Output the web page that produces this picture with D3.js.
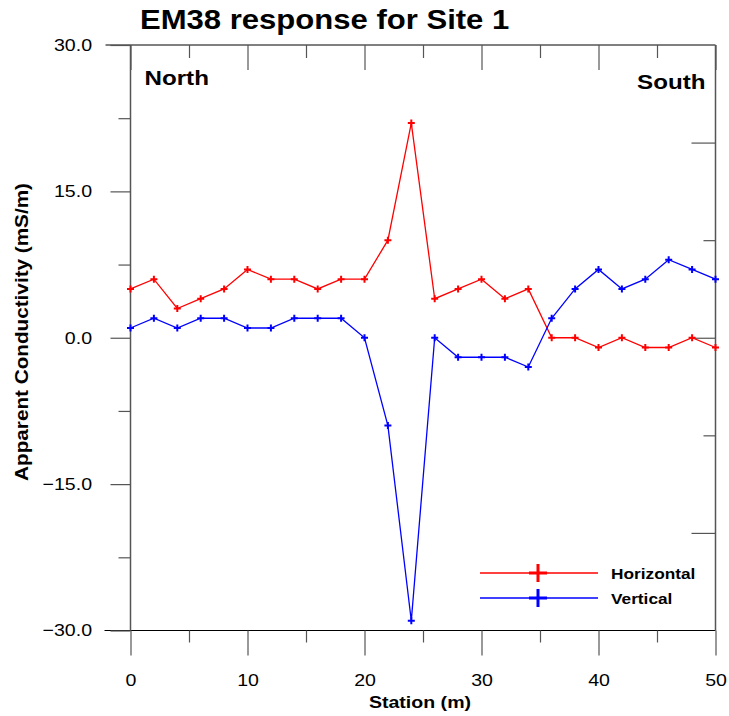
<!DOCTYPE html>
<html>
<head>
<meta charset="utf-8">
<script src="https://cdn.jsdelivr.net/npm/d3@7"></script>
<style>
  body { margin: 0; background: #fff; }
  text { font-family: "Liberation Sans", Arial, sans-serif; }
</style>
</head>
<body>
<svg class="chart"></svg>
<script>
var stations = [0, 2, 4, 6, 8, 10, 12, 14, 16, 18, 20, 22, 24, 26, 28, 30, 32, 34, 36, 38, 40, 42, 44, 46, 48, 50];
var horizontal = [5, 6, 3, 4, 5, 7, 6, 6, 5, 6, 6, 10, 22, 4, 5, 6, 4, 5, 0, 0, -1, 0, -1, -1, 0, -1];
var vertical = [1, 2, 1, 2, 2, 1, 1, 2, 2, 2, 0, -9, -29, 0, -2, -2, -2, -3, 2, 5, 7, 5, 6, 8, 7, 6];
var seriesNames = ["Horizontal", "Vertical"];
var seriesColors = ["#ff0000", "#0000ff"];
var xTicks = [0, 10, 20, 30, 40, 50];
var xMinor = [5, 15, 25, 35, 45];
var yTicks = [-30, -15, 0, 15, 30];
var yMinor = [-22.5, -7.5, 7.5, 22.5];
var yRight = [-20, 0, 20];
var yRightMinor = [-10, 10];

var W = 729, H = 716;
var margin = {top: 45, right: 13.5, bottom: 85.5, left: 130.5};
var width = W - margin.left - margin.right,
    height = H - margin.top - margin.bottom;

// fonts in the original render a bit wider than Arial
var STRETCH = 1.15;
function stretch(sel) {
  sel.each(function() {
    var len = this.getComputedTextLength();
    d3.select(this).attr("textLength", len * STRETCH).attr("lengthAdjust", "spacingAndGlyphs");
  });
}

var x = d3.scaleLinear().domain([0, 50]).range([0, width]);
var y = d3.scaleLinear().domain([-30, 30]).range([height, 0]);

var svg = d3.select(".chart").attr("width", W).attr("height", H);
var chart = svg.append("g")
    .attr("transform", "translate(" + margin.left + "," + margin.top + ")");

// frame
chart.append("line").attr("x1", -25).attr("x2", width).attr("y1", 0).attr("y2", 0)
    .attr("stroke", "#000").attr("stroke-width", 1);
chart.append("line").attr("x1", -26).attr("x2", width).attr("y1", height).attr("y2", height)
    .attr("stroke", "#000").attr("stroke-width", 1);
chart.append("line").attr("x1", 0).attr("x2", 0).attr("y1", 0).attr("y2", height)
    .attr("stroke", "#555").attr("stroke-width", 1.5);
chart.append("line").attr("x1", width).attr("x2", width).attr("y1", 0).attr("y2", height)
    .attr("stroke", "#555").attr("stroke-width", 1.5);

function styleAxis(g) {
  g.select(".domain").remove();
  g.selectAll(".tick line").attr("stroke", "#555").attr("stroke-width", 1.2);
  g.selectAll(".tick text").attr("fill", "#000")
    .style("font-family", "'Liberation Sans', Arial, sans-serif")
    .style("font-size", "17px");
}

// left axis
chart.append("g")
    .call(d3.axisLeft(y).tickValues(yTicks).tickSize(20).tickPadding(18.5).tickFormat(d3.format(".1f")))
    .call(styleAxis)
    .selectAll(".tick text").call(stretch);
chart.append("g")
    .call(d3.axisLeft(y).tickValues(yMinor).tickSize(12).tickFormat(""))
    .call(styleAxis);

// right axis, ticks pointing in
chart.append("g")
    .attr("transform", "translate(" + width + ",0)")
    .call(d3.axisLeft(y).tickValues(yRight).tickSize(24).tickFormat(""))
    .call(styleAxis);
chart.append("g")
    .attr("transform", "translate(" + width + ",0)")
    .call(d3.axisLeft(y).tickValues(yRightMinor).tickSize(12).tickFormat(""))
    .call(styleAxis);

// bottom axis
chart.append("g")
    .attr("transform", "translate(0," + height + ")")
    .call(d3.axisBottom(x).tickValues(xTicks).tickSize(25).tickPadding(18.5).tickFormat(d3.format("d")))
    .call(styleAxis)
    .selectAll(".tick text").call(stretch);
chart.append("g")
    .attr("transform", "translate(0," + height + ")")
    .call(d3.axisBottom(x).tickValues(xMinor).tickSize(12).tickFormat(""))
    .call(styleAxis);

// top axis, ticks pointing in
chart.append("g")
    .call(d3.axisBottom(x).tickValues(xTicks).tickSize(25).tickFormat(""))
    .call(styleAxis);
chart.append("g")
    .call(d3.axisBottom(x).tickValues(xMinor).tickSize(13).tickFormat(""))
    .call(styleAxis);

// series
var plus = function(s) {
  return "M" + (-s) + ",0H" + s + "M0," + (-s) + "V" + s;
};

[horizontal, vertical].forEach(function(vals, i) {
  var data = stations.map(function(s, j) { return {station: s, value: vals[j]}; });
  var line = d3.line()
    .x(d => x(d.station))
    .y(d => y(d.value));

  chart.append("path")
      .datum(data)
      .attr("fill", "none")
      .attr("stroke", seriesColors[i])
      .attr("stroke-width", 1.3)
      .attr("d", line);

  chart.selectAll(".pt" + i)
      .data(data)
    .enter().append("path")
      .attr("class", "pt" + i)
      .attr("transform", d => "translate(" + x(d.station) + "," + y(d.value) + ")")
      .attr("d", plus(3.5))
      .attr("stroke", seriesColors[i])
      .attr("stroke-width", 2)
      .attr("fill", "none");
});

// legend
var legend = chart.selectAll(".legend")
    .data(seriesNames)
  .enter().append("g")
    .attr("class", "legend")
    .attr("transform", (d, i) => "translate(" + (349.5) + "," + (528 + i * 25) + ")");

legend.append("line")
    .attr("x1", 0).attr("x2", 118).attr("y1", 0).attr("y2", 0)
    .attr("stroke", (d, i) => seriesColors[i])
    .attr("stroke-width", 1.3);
legend.append("path")
    .attr("transform", "translate(58,0)")
    .attr("d", plus(9))
    .attr("stroke", (d, i) => seriesColors[i])
    .attr("stroke-width", 3);
legend.append("text")
    .attr("x", 131)
    .attr("y", 6)
    .style("font-size", "15px")
    .style("font-weight", "bold")
    .text(d => d)
    .call(stretch);

// labels
chart.append("text")
    .attr("x", 14)
    .attr("y", 40)
    .style("font-size", "21px")
    .style("font-weight", "bold")
    .text("North")
    .call(stretch);

chart.append("text")
    .attr("x", width - 10)
    .attr("y", 44)
    .style("text-anchor", "end")
    .style("font-size", "21px")
    .style("font-weight", "bold")
    .text("South")
    .call(stretch);

svg.append("text")
    .attr("x", 140)
    .attr("y", 29)
    .style("font-size", "27px")
    .style("font-weight", "bold")
    .text("EM38 response for Site 1")
    .call(stretch);

svg.append("text")
    .attr("x", margin.left + width / 2 - 3)
    .attr("y", 708)
    .style("text-anchor", "middle")
    .style("font-size", "17px")
    .style("font-weight", "bold")
    .text("Station (m)")
    .call(stretch);

svg.append("text")
    .attr("transform", "translate(28,332) rotate(-90)")
    .style("text-anchor", "middle")
    .style("font-size", "18px")
    .style("font-weight", "bold")
    .text("Apparent Conductivity (mS/m)")
    .call(stretch);
</script>
</body>
</html>
